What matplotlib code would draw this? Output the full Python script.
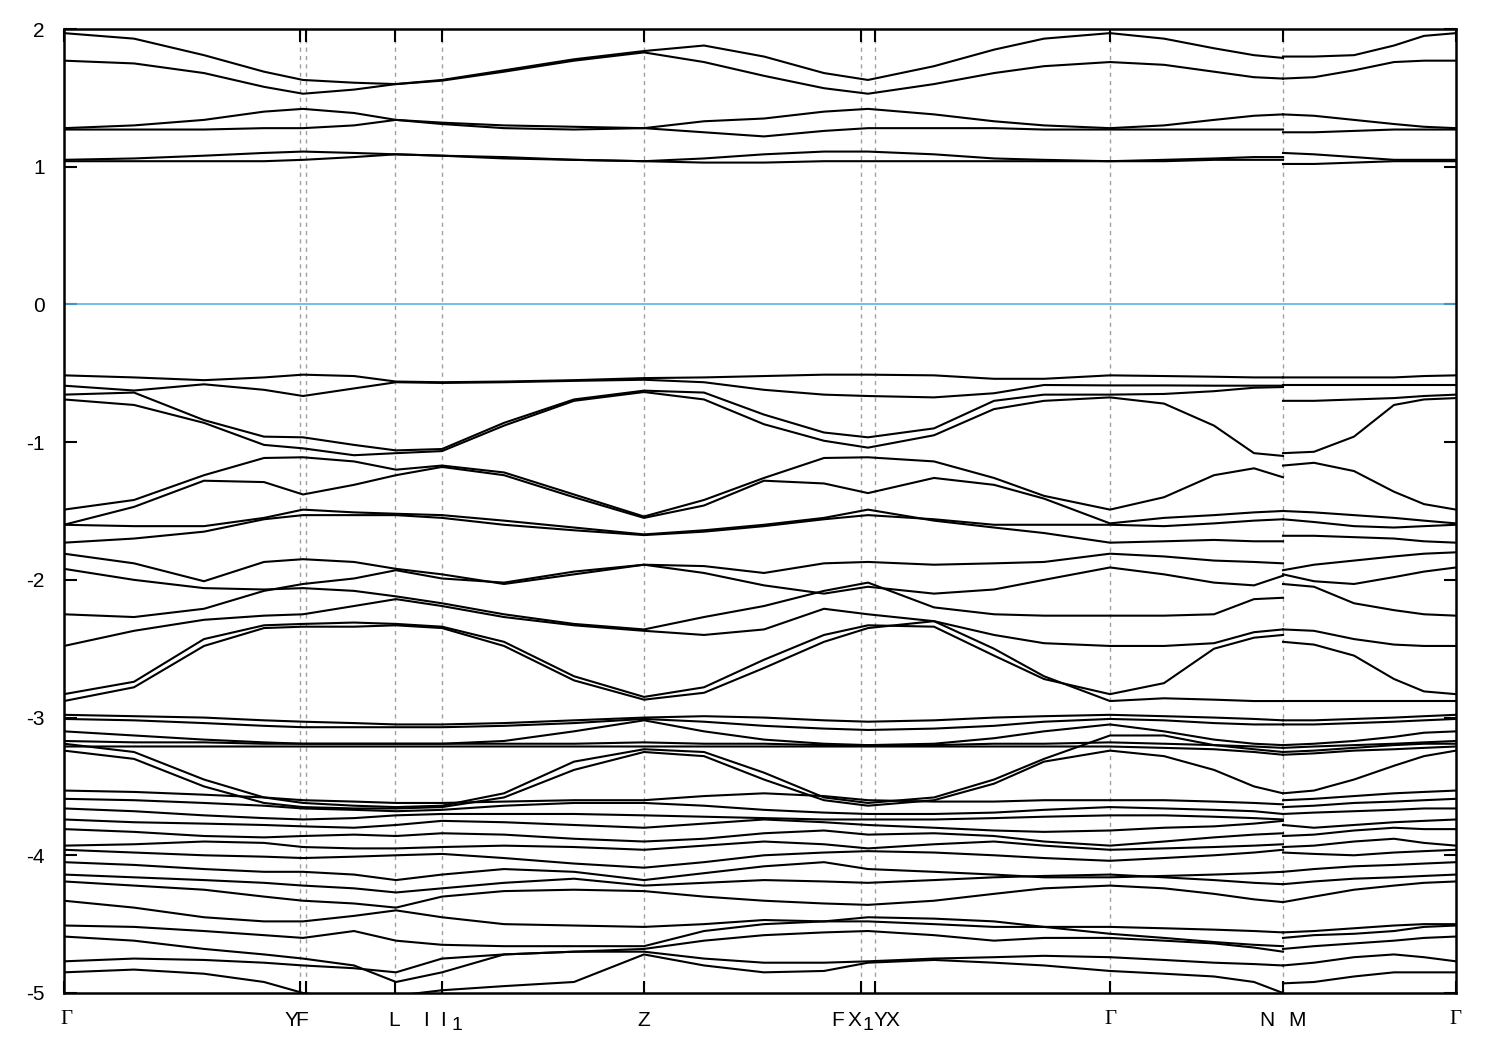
import matplotlib
matplotlib.use("Agg")
import matplotlib.pyplot as plt
from matplotlib.transforms import blended_transform_factory

plt.rcParams['axes.unicode_minus'] = False
plt.rcParams['font.family'] = ['Liberation Sans', 'DejaVu Sans']

# k-path sample positions (path length units)
K_SEG1 = [0, 70, 140, 200, 239, 290, 332, 378, 440, 510, 580, 640, 700, 760, 804,
          870, 930, 980, 1046, 1100, 1150, 1190, 1219]
K_SEG2 = [1219, 1250, 1290, 1330, 1360, 1392]

# high-symmetry ticks
TICK_POS = [0, 235.5, 242, 331, 378, 580, 797, 811, 1046, 1219, 1392]
GRID_POS = [235.5, 242, 331, 378, 580, 797, 811, 1046, 1219]
LABELS = [("Γ", 2), ("Y", 227), ("F", 238), ("L", 330), ("I", 362), ("I", 379),
          ("Z", 580), ("F", 774), ("X", 790), ("Y", 816), ("X", 828),
          ("Γ", 1046), ("N", 1203), ("M", 1233), ("Γ", 1391)]
SUBS = [("1", 393), ("1", 804)]

# energies (eV): 23 values on K_SEG1 then 6 values on K_SEG2
C1 = [1.97, 1.93, 1.81, 1.69, 1.63, 1.61, 1.60, 1.63, 1.70, 1.78, 1.84, 1.88, 1.80, 1.68, 1.63,
      1.73, 1.85, 1.93, 1.97, 1.93, 1.86, 1.81, 1.79, 1.80, 1.80, 1.81, 1.88, 1.95, 1.97]
C2 = [1.77, 1.75, 1.68, 1.58, 1.53, 1.56, 1.60, 1.625, 1.69, 1.77, 1.83, 1.76, 1.66, 1.57, 1.53,
      1.60, 1.68, 1.73, 1.76, 1.74, 1.69, 1.65, 1.64, 1.64, 1.65, 1.70, 1.76, 1.77, 1.77]
C3 = [1.28, 1.30, 1.34, 1.40, 1.42, 1.39, 1.34, 1.32, 1.30, 1.29, 1.28, 1.33, 1.35, 1.40, 1.42,
      1.38, 1.33, 1.30, 1.28, 1.30, 1.34, 1.37, 1.38, 1.38, 1.37, 1.34, 1.31, 1.29, 1.28]
C4 = [1.27, 1.27, 1.27, 1.28, 1.28, 1.30, 1.34, 1.31, 1.28, 1.27, 1.28, 1.25, 1.22, 1.26, 1.28,
      1.28, 1.28, 1.27, 1.27, 1.27, 1.27, 1.27, 1.27, 1.25, 1.25, 1.26, 1.27, 1.27, 1.27]
C5 = [1.05, 1.06, 1.08, 1.10, 1.11, 1.10, 1.09, 1.08, 1.07, 1.05, 1.04, 1.06, 1.09, 1.11, 1.11,
      1.09, 1.06, 1.05, 1.04, 1.05, 1.06, 1.07, 1.07, 1.10, 1.09, 1.07, 1.05, 1.05, 1.05]
C6 = [1.04, 1.04, 1.04, 1.04, 1.05, 1.07, 1.09, 1.08, 1.06, 1.05, 1.04, 1.03, 1.03, 1.04, 1.04,
      1.04, 1.04, 1.04, 1.04, 1.04, 1.05, 1.05, 1.05, 1.02, 1.02, 1.03, 1.04, 1.04, 1.04]

V1 = [-0.515, -0.53, -0.55, -0.53, -0.51, -0.52, -0.56, -0.565, -0.56, -0.55, -0.535, -0.53, -0.52,
      -0.51, -0.51, -0.515, -0.54, -0.54, -0.515, -0.52, -0.525, -0.53, -0.53,
      -0.53, -0.53, -0.53, -0.53, -0.52, -0.515]
V2 = [-0.59, -0.625, -0.58, -0.62, -0.665, -0.61, -0.565, -0.57, -0.565, -0.555, -0.547, -0.565,
      -0.62, -0.655, -0.665, -0.675, -0.645, -0.585, -0.588, -0.588, -0.59, -0.59, -0.59,
      -0.588, -0.588, -0.588, -0.588, -0.588, -0.588]
V3 = [-0.655, -0.64, -0.84, -0.96, -0.965, -1.02, -1.06, -1.05, -0.86, -0.69, -0.626, -0.64, -0.80,
      -0.93, -0.965, -0.90, -0.70, -0.655, -0.655, -0.65, -0.63, -0.605, -0.60,
      -0.70, -0.70, -0.69, -0.68, -0.665, -0.655]
V4 = [-0.69, -0.73, -0.86, -1.02, -1.045, -1.095, -1.08, -1.065, -0.88, -0.70, -0.636, -0.69, -0.87,
      -0.99, -1.04, -0.95, -0.76, -0.70, -0.675, -0.72, -0.88, -1.08, -1.10,
      -1.08, -1.07, -0.96, -0.73, -0.69, -0.68]

VA = [-1.49, -1.42, -1.24, -1.115, -1.11, -1.14, -1.20, -1.17, -1.22, -1.38, -1.54, -1.42, -1.26,
      -1.115, -1.11, -1.14, -1.26, -1.39, -1.49, -1.40, -1.24, -1.19, -1.255,
      -1.17, -1.15, -1.21, -1.36, -1.45, -1.49]
VB = [-1.60, -1.47, -1.28, -1.29, -1.38, -1.31, -1.24, -1.18, -1.24, -1.40, -1.55, -1.46, -1.28,
      -1.30, -1.37, -1.26, -1.31, -1.41, -1.59, -1.55, -1.53, -1.51, -1.50,
      -1.50, -1.51, -1.53, -1.55, -1.57, -1.59]
VC = [-1.60, -1.61, -1.61, -1.55, -1.49, -1.51, -1.52, -1.53, -1.57, -1.62, -1.67, -1.64, -1.60,
      -1.55, -1.49, -1.57, -1.62, -1.66, -1.73, -1.72, -1.71, -1.72, -1.72,
      -1.68, -1.68, -1.69, -1.70, -1.72, -1.73]
VE = [-1.73, -1.70, -1.65, -1.56, -1.53, -1.53, -1.53, -1.55, -1.60, -1.64, -1.675, -1.65, -1.61,
      -1.56, -1.53, -1.56, -1.60, -1.60, -1.60, -1.61, -1.59, -1.57, -1.56,
      -1.56, -1.58, -1.61, -1.62, -1.61, -1.60]

VF = [-1.81, -1.88, -2.01, -1.87, -1.85, -1.87, -1.92, -1.96, -2.03, -1.96, -1.89, -1.90, -1.95,
      -1.88, -1.87, -1.89, -1.88, -1.87, -1.81, -1.83, -1.86, -1.87, -1.88,
      -1.93, -1.89, -1.86, -1.83, -1.81, -1.80]
VG = [-1.92, -2.00, -2.06, -2.07, -2.06, -2.08, -2.12, -2.17, -2.25, -2.32, -2.36, -2.27, -2.19,
      -2.08, -2.02, -2.20, -2.25, -2.26, -2.26, -2.26, -2.25, -2.14, -2.13,
      -2.03, -2.05, -2.17, -2.22, -2.25, -2.26]
VH1 = [-2.25, -2.27, -2.21, -2.08, -2.03, -1.99, -1.93, -1.99, -2.02, -1.94, -1.89, -1.95, -2.04,
       -2.10, -2.05, -2.10, -2.07, -2.00, -1.91, -1.96, -2.02, -2.04, -1.97,
       -1.96, -2.01, -2.03, -1.98, -1.94, -1.91]
VH2 = [-2.48, -2.37, -2.29, -2.26, -2.25, -2.19, -2.14, -2.19, -2.27, -2.33, -2.37, -2.40, -2.36,
       -2.21, -2.25, -2.30, -2.40, -2.46, -2.48, -2.48, -2.46, -2.38, -2.36,
       -2.36, -2.37, -2.43, -2.47, -2.48, -2.48]
VI1 = [-2.83, -2.74, -2.43, -2.33, -2.32, -2.31, -2.32, -2.34, -2.45, -2.70, -2.85, -2.78, -2.58,
       -2.40, -2.33, -2.34, -2.55, -2.72, -2.83, -2.75, -2.50, -2.42, -2.40,
       -2.45, -2.47, -2.55, -2.72, -2.81, -2.83]
VI2 = [-2.88, -2.78, -2.48, -2.35, -2.34, -2.34, -2.33, -2.35, -2.48, -2.73, -2.87, -2.82, -2.64,
       -2.45, -2.35, -2.30, -2.50, -2.70, -2.88, -2.86, -2.87, -2.88, -2.88,
       -2.88, -2.88, -2.88, -2.88, -2.88, -2.88]

K1 = [-2.98, -2.99, -3.00, -3.02, -3.03, -3.04, -3.05, -3.05, -3.04, -3.02, -3.00, -2.99, -3.00,
      -3.02, -3.03, -3.02, -3.00, -2.99, -2.98, -2.99, -3.00, -3.01, -3.02,
      -3.02, -3.02, -3.01, -3.00, -2.99, -2.98]
K2 = [-3.01, -3.02, -3.04, -3.06, -3.07, -3.07, -3.07, -3.07, -3.06, -3.04, -3.01, -3.03, -3.06,
      -3.08, -3.09, -3.08, -3.06, -3.03, -3.01, -3.02, -3.04, -3.05, -3.05,
      -3.05, -3.05, -3.04, -3.03, -3.02, -3.01]
K3 = [-3.10, -3.13, -3.16, -3.18, -3.19, -3.19, -3.19, -3.19, -3.17, -3.10, -3.02, -3.10, -3.16,
      -3.19, -3.20, -3.19, -3.15, -3.10, -3.05, -3.10, -3.16, -3.19, -3.20,
      -3.20, -3.19, -3.17, -3.14, -3.11, -3.10]
K4 = [-3.17, -3.18, -3.18, -3.19, -3.19, -3.19, -3.19, -3.19, -3.19, -3.19, -3.18, -3.19, -3.19,
      -3.20, -3.20, -3.20, -3.19, -3.19, -3.18, -3.19, -3.20, -3.21, -3.22,
      -3.22, -3.21, -3.20, -3.19, -3.18, -3.17]
K5 = [-3.21, -3.21, -3.21, -3.21, -3.21, -3.21, -3.21, -3.21, -3.21, -3.21, -3.21, -3.21, -3.21,
      -3.21, -3.21, -3.21, -3.21, -3.21, -3.21, -3.22, -3.23, -3.25, -3.27,
      -3.27, -3.26, -3.24, -3.23, -3.22, -3.21]
K6 = [-3.19, -3.25, -3.45, -3.58, -3.62, -3.64, -3.65, -3.64, -3.55, -3.32, -3.23, -3.25, -3.40,
      -3.58, -3.62, -3.58, -3.45, -3.30, -3.13, -3.13, -3.20, -3.23, -3.25,
      -3.25, -3.24, -3.22, -3.20, -3.19, -3.19]
K7 = [-3.24, -3.30, -3.50, -3.62, -3.65, -3.66, -3.66, -3.65, -3.58, -3.38, -3.25, -3.28, -3.45,
      -3.60, -3.64, -3.60, -3.48, -3.32, -3.24, -3.28, -3.38, -3.50, -3.55,
      -3.55, -3.53, -3.45, -3.35, -3.28, -3.24]
K8 = [-3.53, -3.54, -3.56, -3.58, -3.60, -3.61, -3.62, -3.62, -3.61, -3.60, -3.60, -3.57, -3.55,
      -3.57, -3.60, -3.61, -3.61, -3.60, -3.60, -3.60, -3.61, -3.62, -3.63,
      -3.60, -3.59, -3.57, -3.55, -3.54, -3.53]
K9 = [-3.59, -3.60, -3.62, -3.64, -3.66, -3.67, -3.68, -3.67, -3.64, -3.62, -3.62, -3.64, -3.67,
      -3.69, -3.70, -3.70, -3.69, -3.67, -3.65, -3.66, -3.67, -3.68, -3.70,
      -3.65, -3.64, -3.62, -3.61, -3.60, -3.59]
K10 = [-3.66, -3.68, -3.71, -3.73, -3.74, -3.73, -3.71, -3.70, -3.70, -3.70, -3.71, -3.72, -3.73,
       -3.74, -3.74, -3.74, -3.73, -3.72, -3.71, -3.71, -3.72, -3.73, -3.74,
       -3.70, -3.69, -3.68, -3.67, -3.66, -3.66]
K11 = [-3.74, -3.76, -3.77, -3.78, -3.79, -3.80, -3.78, -3.75, -3.76, -3.78, -3.80, -3.77, -3.74,
       -3.76, -3.78, -3.80, -3.82, -3.83, -3.82, -3.80, -3.79, -3.77, -3.75,
       -3.78, -3.80, -3.78, -3.76, -3.75, -3.74]
K12 = [-3.81, -3.83, -3.86, -3.87, -3.86, -3.85, -3.86, -3.84, -3.85, -3.88, -3.90, -3.88, -3.84,
       -3.82, -3.85, -3.84, -3.86, -3.90, -3.93, -3.90, -3.87, -3.85, -3.84,
       -3.86, -3.85, -3.82, -3.80, -3.81, -3.81]
K13 = [-3.93, -3.92, -3.90, -3.91, -3.94, -3.95, -3.95, -3.94, -3.93, -3.94, -3.96, -3.93, -3.90,
       -3.92, -3.95, -3.92, -3.90, -3.93, -3.96, -3.95, -3.94, -3.93, -3.92,
       -3.94, -3.93, -3.90, -3.88, -3.91, -3.93]
K14 = [-3.96, -3.98, -4.00, -4.01, -4.02, -4.01, -4.00, -3.99, -4.02, -4.06, -4.09, -4.05, -4.00,
       -3.98, -3.97, -3.98, -4.00, -4.02, -4.04, -4.02, -4.00, -3.98, -3.96,
       -3.98, -3.99, -4.00, -3.98, -3.97, -3.96]
K15 = [-4.05, -4.07, -4.10, -4.12, -4.12, -4.14, -4.18, -4.14, -4.10, -4.12, -4.18, -4.13, -4.08,
       -4.05, -4.10, -4.12, -4.14, -4.16, -4.16, -4.15, -4.14, -4.13, -4.12,
       -4.12, -4.10, -4.08, -4.07, -4.06, -4.05]
K16 = [-4.14, -4.16, -4.18, -4.20, -4.22, -4.24, -4.27, -4.24, -4.20, -4.17, -4.22, -4.20, -4.18,
       -4.19, -4.20, -4.18, -4.16, -4.15, -4.14, -4.16, -4.18, -4.20, -4.21,
       -4.21, -4.19, -4.17, -4.16, -4.15, -4.14]
K17 = [-4.19, -4.22, -4.25, -4.30, -4.33, -4.35, -4.38, -4.30, -4.26, -4.25, -4.26, -4.30, -4.33,
       -4.35, -4.36, -4.33, -4.28, -4.24, -4.22, -4.24, -4.28, -4.32, -4.34,
       -4.34, -4.30, -4.25, -4.22, -4.20, -4.19]
K18 = [-4.33, -4.38, -4.45, -4.48, -4.48, -4.44, -4.40, -4.45, -4.50, -4.51, -4.52, -4.50, -4.47,
       -4.48, -4.48, -4.50, -4.52, -4.52, -4.52, -4.53, -4.54, -4.55, -4.56,
       -4.56, -4.55, -4.53, -4.51, -4.50, -4.50]
K19 = [-4.51, -4.52, -4.55, -4.58, -4.60, -4.55, -4.62, -4.65, -4.66, -4.66, -4.66, -4.55, -4.50,
       -4.48, -4.45, -4.46, -4.48, -4.52, -4.57, -4.60, -4.63, -4.65, -4.66,
       -4.60, -4.58, -4.57, -4.55, -4.52, -4.51]
K20 = [-4.59, -4.62, -4.68, -4.72, -4.75, -4.80, -4.92, -4.85, -4.72, -4.70, -4.68, -4.62, -4.58,
       -4.56, -4.55, -4.58, -4.62, -4.60, -4.60, -4.62, -4.64, -4.67, -4.70,
       -4.68, -4.66, -4.64, -4.62, -4.60, -4.59]
K21 = [-4.77, -4.75, -4.76, -4.78, -4.80, -4.82, -4.85, -4.75, -4.72, -4.70, -4.70, -4.75, -4.78,
       -4.78, -4.77, -4.75, -4.74, -4.73, -4.74, -4.76, -4.78, -4.79, -4.80,
       -4.80, -4.78, -4.74, -4.72, -4.74, -4.77]
K22 = [-4.85, -4.83, -4.86, -4.92, -5.00, -5.05, -5.02, -4.98, -4.95, -4.92, -4.72, -4.80, -4.85,
       -4.84, -4.78, -4.76, -4.78, -4.80, -4.84, -4.86, -4.88, -4.92, -5.00,
       -4.93, -4.92, -4.88, -4.85, -4.85, -4.85]

BANDS = [C1, C2, C3, C4, C5, C6, V1, V2, V3, V4, VA, VB, VC, VE, VF, VG, VH1, VH2, VI1, VI2,
         K1, K2, K3, K4, K5, K6, K7, K8, K9, K10, K11, K12, K13, K14, K15, K16, K17, K18,
         K19, K20, K21, K22]

fig = plt.figure(figsize=(15, 10.5), dpi=100)
ax = fig.add_axes([64 / 1500, 1 - 993 / 1050, 1392 / 1500, 964 / 1050])

n1 = len(K_SEG1)
for band in BANDS:
    ax.plot(K_SEG1, band[:n1], color='black', lw=1.5, solid_joinstyle='round', zorder=3)
    ax.plot(K_SEG2, band[n1:], color='black', lw=1.5, solid_joinstyle='round', zorder=3)

for xg in GRID_POS:
    ax.axvline(xg, color='#a0a0a0', lw=1.0, linestyle=(0, (3, 3)), zorder=1)
ax.axhline(0, color='#56b4e9', lw=1.2, zorder=2)

ax.set_xlim(0, 1392)
ax.set_ylim(-5, 2)
ax.set_yticks(range(-5, 3))
ax.set_yticklabels([str(v) for v in range(-5, 3)])
ax.set_xticks(TICK_POS)
ax.set_xticklabels([''] * len(TICK_POS))
ax.tick_params(axis='both', direction='in', length=9, width=1.5, top=True, right=True)
ax.tick_params(axis='y', labelsize=15, pad=14)
for sp in ax.spines.values():
    sp.set_linewidth(1.8)

tr = blended_transform_factory(ax.transData, fig.transFigure)
for txt, xpos in LABELS:
    fam = ['Liberation Serif'] if txt == 'Γ' else ['Liberation Sans']
    ax.text(xpos, 1 - 1020 / 1050, txt, transform=tr, ha='center', va='center',
            fontsize=15, family=fam, clip_on=False)
for txt, xpos in SUBS:
    ax.text(xpos, 1 - 1026 / 1050, txt, transform=tr, ha='center', va='center',
            fontsize=14, clip_on=False)

fig.savefig('out.png', dpi=100)
